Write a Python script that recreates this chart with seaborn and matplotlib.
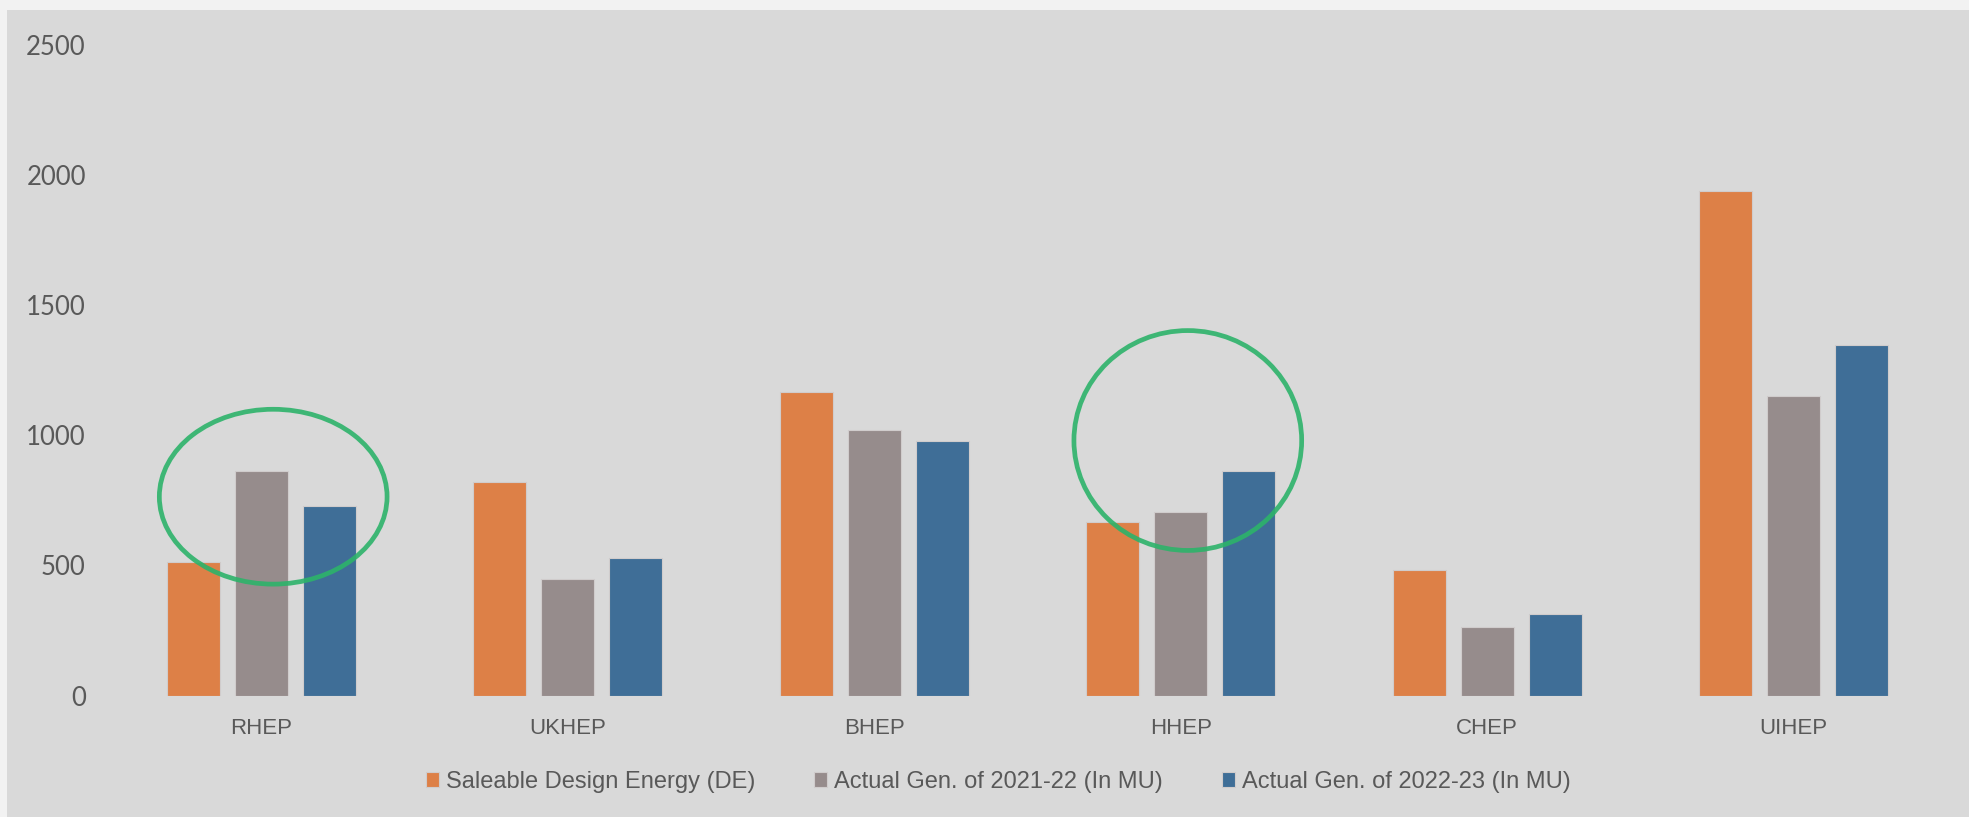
import matplotlib
matplotlib.use('Agg')
import matplotlib.pyplot as plt
from matplotlib.patches import Ellipse, Rectangle
import pandas as pd
import seaborn as sns

# data
plants = ['RHEP', 'UKHEP', 'BHEP', 'HHEP', 'CHEP', 'UIHEP']
series = ['Saleable Design Energy (DE)', 'Actual Gen. of 2021-22 (In MU)', 'Actual Gen. of 2022-23 (In MU)']
design_energy = [514, 820, 1165, 668, 482, 1938]
gen_2021_22 = [863, 447, 1022, 707, 265, 1151]
gen_2022_23 = [729, 527, 977, 863, 314, 1346]
colors = ['#DD8047', '#968C8C', '#3F6E97']

df = pd.DataFrame({
    'plant': plants * 3,
    'series': [s for s in series for _ in plants],
    'value': design_energy + gen_2021_22 + gen_2022_23,
})

sns.set_theme(style='white')
plt.rcParams['font.family'] = ['Liberation Sans', 'DejaVu Sans']
txt = '#595959'

fig = plt.figure(figsize=(19.69, 8.17), dpi=100, facecolor='#F2F2F2')
# grey panel behind the chart
fig.patches.append(Rectangle((7 / 1969, 0), 1, 1 - 10 / 817, transform=fig.transFigure,
                             facecolor='#D9D9D9', edgecolor='none', zorder=-5))
ax = fig.add_axes([108 / 1969, 1 - 695.5 / 817, (1947 - 108) / 1969, (695.5 - 45) / 817])
ax.set_facecolor('none')

sns.barplot(data=df, x='plant', y='value', hue='series', hue_order=series, palette=colors,
            width=0.664, gap=0.22, ax=ax, saturation=1, linewidth=0.8, edgecolor='#d0cccc')

ax.set_xlim(-0.5, 5.5)
ax.set_ylim(0, 2500)
ax.set_yticks([0, 500, 1000, 1500, 2000, 2500])
ax.set_xlabel('')
ax.set_ylabel('')
for s in ax.spines.values():
    s.set_visible(False)
ax.tick_params(axis='y', length=0, pad=16, labelsize=18.5, labelcolor=txt, labelfontfamily='Lato')
ax.tick_params(axis='x', length=0, pad=16, labelsize=16, labelcolor=txt)

# green highlight rings
ax.add_patch(Ellipse((0.039, 764), 0.743, 672, fill=False, edgecolor='#2DB36A', lw=3.4, alpha=0.9, zorder=5))
ax.add_patch(Ellipse((3.023, 980), 0.743, 845, fill=False, edgecolor='#2DB36A', lw=3.4, alpha=0.9, zorder=5))

handles, labels = ax.get_legend_handles_labels()
ax.get_legend().remove()
fig.legend(handles, labels, loc='center', bbox_to_anchor=(0.507, 0.043), ncol=3, frameon=False,
           fontsize=17, labelcolor=txt, handlelength=0.55, handleheight=0.65, handletextpad=0.3,
           columnspacing=2.5)

fig.savefig('out.png', dpi=100, facecolor=fig.get_facecolor())
